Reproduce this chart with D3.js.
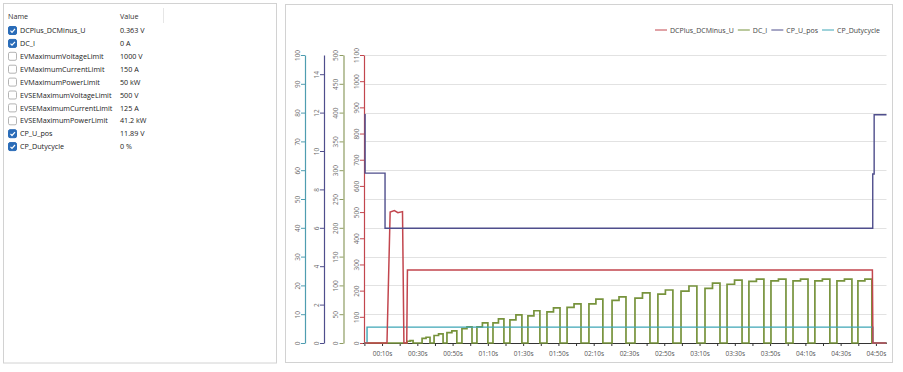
<!DOCTYPE html>
<html>
<head>
<meta charset="utf-8">
<script src="https://cdn.jsdelivr.net/npm/d3@7"></script>
<style>
	body { margin: 0; background: #fff; }
	text { font-family: "Open Sans", sans-serif; }
</style>
</head>
<body>
<svg id="chart" width="903" height="372"></svg>
<script>
// signal table on the left
var signalNames = ['DCPlus_DCMinus_U', 'DC_I', 'EVMaximumVoltageLimit', 'EVMaximumCurrentLimit',
	'EVMaximumPowerLimit', 'EVSEMaximumVoltageLimit', 'EVSEMaximumCurrentLimit',
	'EVSEMaximumPowerLimit', 'CP_U_pos', 'CP_Dutycycle'];
var signalValues = ['0.363 V', '0 A', '1000 V', '150 A', '50 kW', '500 V', '125 A', '41.2 kW', '11.89 V', '0 %'];
var signalChecked = [true, true, false, false, false, false, false, false, true, true];

// plotted series
var seriesNames = ['DCPlus_DCMinus_U', 'DC_I', 'CP_U_pos', 'CP_Dutycycle'];
var seriesColors = ['#c2464e', '#77933c', '#4f4e8c', '#3ea6b6'];

// DCPlus_DCMinus_U (V)
var voltT = [0, 12.8, 14.6, 17.0, 19.0, 21.6, 22.4, 24.0, 24.4, 288.0, 288.3, 296];
var voltV = [0, 0, 500, 506, 498, 502, 0, 0, 279, 279, 0, 0];

// CP_U_pos (V)
var cpT = [0, 0.4, 0.4, 11.7, 11.7, 288.2, 288.2, 289.0, 289.0, 296];
var cpV = [11.89, 11.89, 8.85, 8.85, 5.98, 5.98, 8.8, 8.8, 11.89, 11.89];

// CP_Dutycycle (%)
var dutyT = [0, 1.5, 1.5, 288.3, 288.3, 296];
var dutyV = [0, 0, 5.5, 5.5, 0, 0];

// DC_I pulses (s, A)
var pulseOn = [24.2, 32.7, 39.5, 46.8, 55.3, 63.8, 72.9, 82.5, 92.7, 103.5, 114.9, 127.3,
	140.4, 153.4, 166.4, 179.5, 193.1, 205.6, 218.0, 230.5, 243.0, 255.4, 267.9, 279.8];
var pulseOff = [27.6, 37.2, 44.6, 52.4, 61.0, 70.0, 79.1, 89.3, 99.5, 110.9, 122.8, 135.2,
	148.3, 161.9, 174.9, 188.5, 201.6, 214.1, 226.5, 239.0, 251.5, 263.9, 276.4, 287.7];
var pulseLow = [3, 8, 13, 18, 25, 28, 35, 40, 47, 54, 62, 68, 74, 78, 85, 90, 95, 102, 107, 108, 108, 108, 108, 108];
var pulseHigh = [4, 10, 16, 21, 28, 35, 42, 49, 56, 61, 68, 76, 80, 87, 92, 99, 104, 109, 111, 111, 111, 111, 111, 111];

// axes
var timeTicks = d3.range(0, 291, 10);
var axisDefs = [
	{ x: 305, max: 100, ticks: d3.range(0, 101, 10), color: '#4f9db0' },
	{ x: 324, max: 15, ticks: d3.range(0, 15, 2), color: '#4f4e8c' },
	{ x: 343.5, max: 500, ticks: d3.range(0, 501, 50), color: '#8e9c62' },
	{ x: 364, max: 1100, ticks: d3.range(0, 1101, 100), color: '#c2464e' }
];

var svg = d3.select('#chart');
var fontSize = 7.2;

// ---------- left panel ----------
svg.append('rect')
	.attr('x', 3.5).attr('y', 3.5).attr('width', 273).attr('height', 359.5)
	.attr('fill', '#fff').attr('stroke', '#d2d2d2');

svg.append('text').attr('x', 8).attr('y', 18.5).attr('font-size', fontSize).attr('fill', '#333').text('Name');
svg.append('text').attr('x', 120).attr('y', 18.5).attr('font-size', fontSize).attr('fill', '#333').text('Value');
svg.append('line').attr('x1', 163.5).attr('x2', 163.5).attr('y1', 8).attr('y2', 23)
	.attr('stroke', '#e6e6e6');

var rows = svg.append('g').selectAll('g')
	.data(signalNames)
	.join('g')
	.attr('transform', (d, i) => `translate(0, ${30.5 + i * 12.9})`);

rows.append('rect')
	.attr('x', 8.5).attr('y', -4).attr('width', 8).attr('height', 8).attr('rx', 1.5)
	.attr('fill', (d, i) => signalChecked[i] ? '#2a6cb8' : '#fff')
	.attr('stroke', (d, i) => signalChecked[i] ? '#2a6cb8' : '#b4b4b4');

rows.filter((d, i) => signalChecked[i])
	.append('path')
	.attr('d', 'M10.5,0.2 L12,1.8 L15,-1.6')
	.attr('fill', 'none').attr('stroke', '#fff').attr('stroke-width', 1.2);

rows.append('text')
	.attr('x', 20).attr('y', 2.6).attr('font-size', fontSize).attr('fill', '#222')
	.text(d => d);

rows.append('text')
	.attr('x', 120).attr('y', 2.6).attr('font-size', fontSize).attr('fill', '#222')
	.text((d, i) => signalValues[i]);

// ---------- right panel ----------
svg.append('rect')
	.attr('x', 285.5).attr('y', 4.5).attr('width', 607).attr('height', 358)
	.attr('fill', '#fff').attr('stroke', '#d2d2d2');

var plotTop = 55, plotBottom = 343;
var x = d3.scaleLinear().domain([0, 296]).range([364.4, 886.5]);

var yScales = axisDefs.map(a => d3.scaleLinear().domain([0, a.max]).range([plotBottom, plotTop]));

// grid
svg.append('g').selectAll('line')
	.data(axisDefs[0].ticks.slice(1))
	.join('line')
	.attr('x1', 364).attr('x2', 886.5)
	.attr('y1', d => Math.round(yScales[0](d)) + 0.5)
	.attr('y2', d => Math.round(yScales[0](d)) + 0.5)
	.attr('stroke', '#e2e2e2');

// y axes
axisDefs.forEach(function(a, k) {
	var g = svg.append('g')
		.attr('transform', `translate(${a.x}, 0)`)
		.call(d3.axisLeft(yScales[k]).tickValues(a.ticks).tickSize(4).tickSizeOuter(0)
			.tickFormat(d3.format('d')));
	g.select('.domain').attr('stroke', a.color).attr('stroke-width', 1.2);
	g.selectAll('.tick line').attr('stroke', a.color);
	g.selectAll('.tick text')
		.attr('transform', 'rotate(-90)')
		.attr('x', 0).attr('y', -5.5).attr('dy', 0)
		.attr('text-anchor', 'middle')
		.attr('font-size', 6.5)
		.attr('font-family', '"Open Sans", sans-serif')
		.attr('fill', '#6a6a6a');
});

// x axis
var fmt = (s) => d3.format('02')(Math.floor(s / 60)) + ':' + d3.format('02')(s % 60) + 's';
var xg = svg.append('g')
	.attr('transform', `translate(0, ${plotBottom})`)
	.call(d3.axisBottom(x).tickValues(timeTicks).tickSize(3).tickSizeOuter(0)
		.tickFormat(d => (d % 20 === 10) ? fmt(d) : ''));
xg.select('.domain').attr('stroke', '#333').attr('d', `M363,0.5H887`);
xg.selectAll('.tick line').attr('stroke', '#333');
xg.selectAll('.tick text')
	.attr('y', 8).attr('font-size', 6.5)
	.attr('font-family', '"Open Sans", sans-serif')
	.attr('fill', '#555');

// build DC_I points from the pulse table
var currT = [0], currV = [0];
pulseOn.forEach(function(on, i) {
	var off = pulseOff[i], mid = (on + off) / 2;
	currT.push(on, on, mid, mid, off, off);
	currV.push(0, pulseLow[i], pulseLow[i], pulseHigh[i], pulseHigh[i], 0);
});
currT.push(296); currV.push(0);

var seriesData = [
	{ t: voltT, v: voltV, axis: 3, width: 1.5 },
	{ t: currT, v: currV, axis: 2, width: 1.7 },
	{ t: cpT, v: cpV, axis: 1, width: 1.4 },
	{ t: dutyT, v: dutyV, axis: 0, width: 1.4 }
];

var plot = svg.append('g');
// draw DC_I first, then others on top
[1, 3, 0, 2].forEach(function(s) {
	var sd = seriesData[s];
	var ys = yScales[sd.axis];
	var pts = sd.t.map((t, i) => [x(t), ys(sd.v[i])]);
	plot.append('path')
		.attr('d', d3.line()(pts))
		.attr('fill', 'none')
		.attr('stroke', seriesColors[s])
		.attr('stroke-width', sd.width)
		.attr('stroke-linejoin', 'miter');
});

// legend, right aligned
var legend = svg.append('g').attr('transform', 'translate(0, 30)');
var items = legend.selectAll('g').data(seriesNames).join('g');
items.append('line').attr('x1', 0).attr('x2', 12).attr('y1', 0).attr('y2', 0)
	.attr('stroke', (d, i) => seriesColors[i]).attr('stroke-width', 1);
items.append('text').attr('x', 15).attr('y', 2.5).attr('font-size', 7).attr('fill', '#444')
	.text(d => d);
var widths = [];
items.each(function() { widths.push(15 + this.querySelector('text').getComputedTextLength()); });
var total = d3.sum(widths) + 4 * (widths.length - 1);
var cx = 880 - total;
items.attr('transform', function(d, i) {
	var p = cx; cx += widths[i] + 4; return `translate(${p}, 0)`;
});
</script>
</body>
</html>
